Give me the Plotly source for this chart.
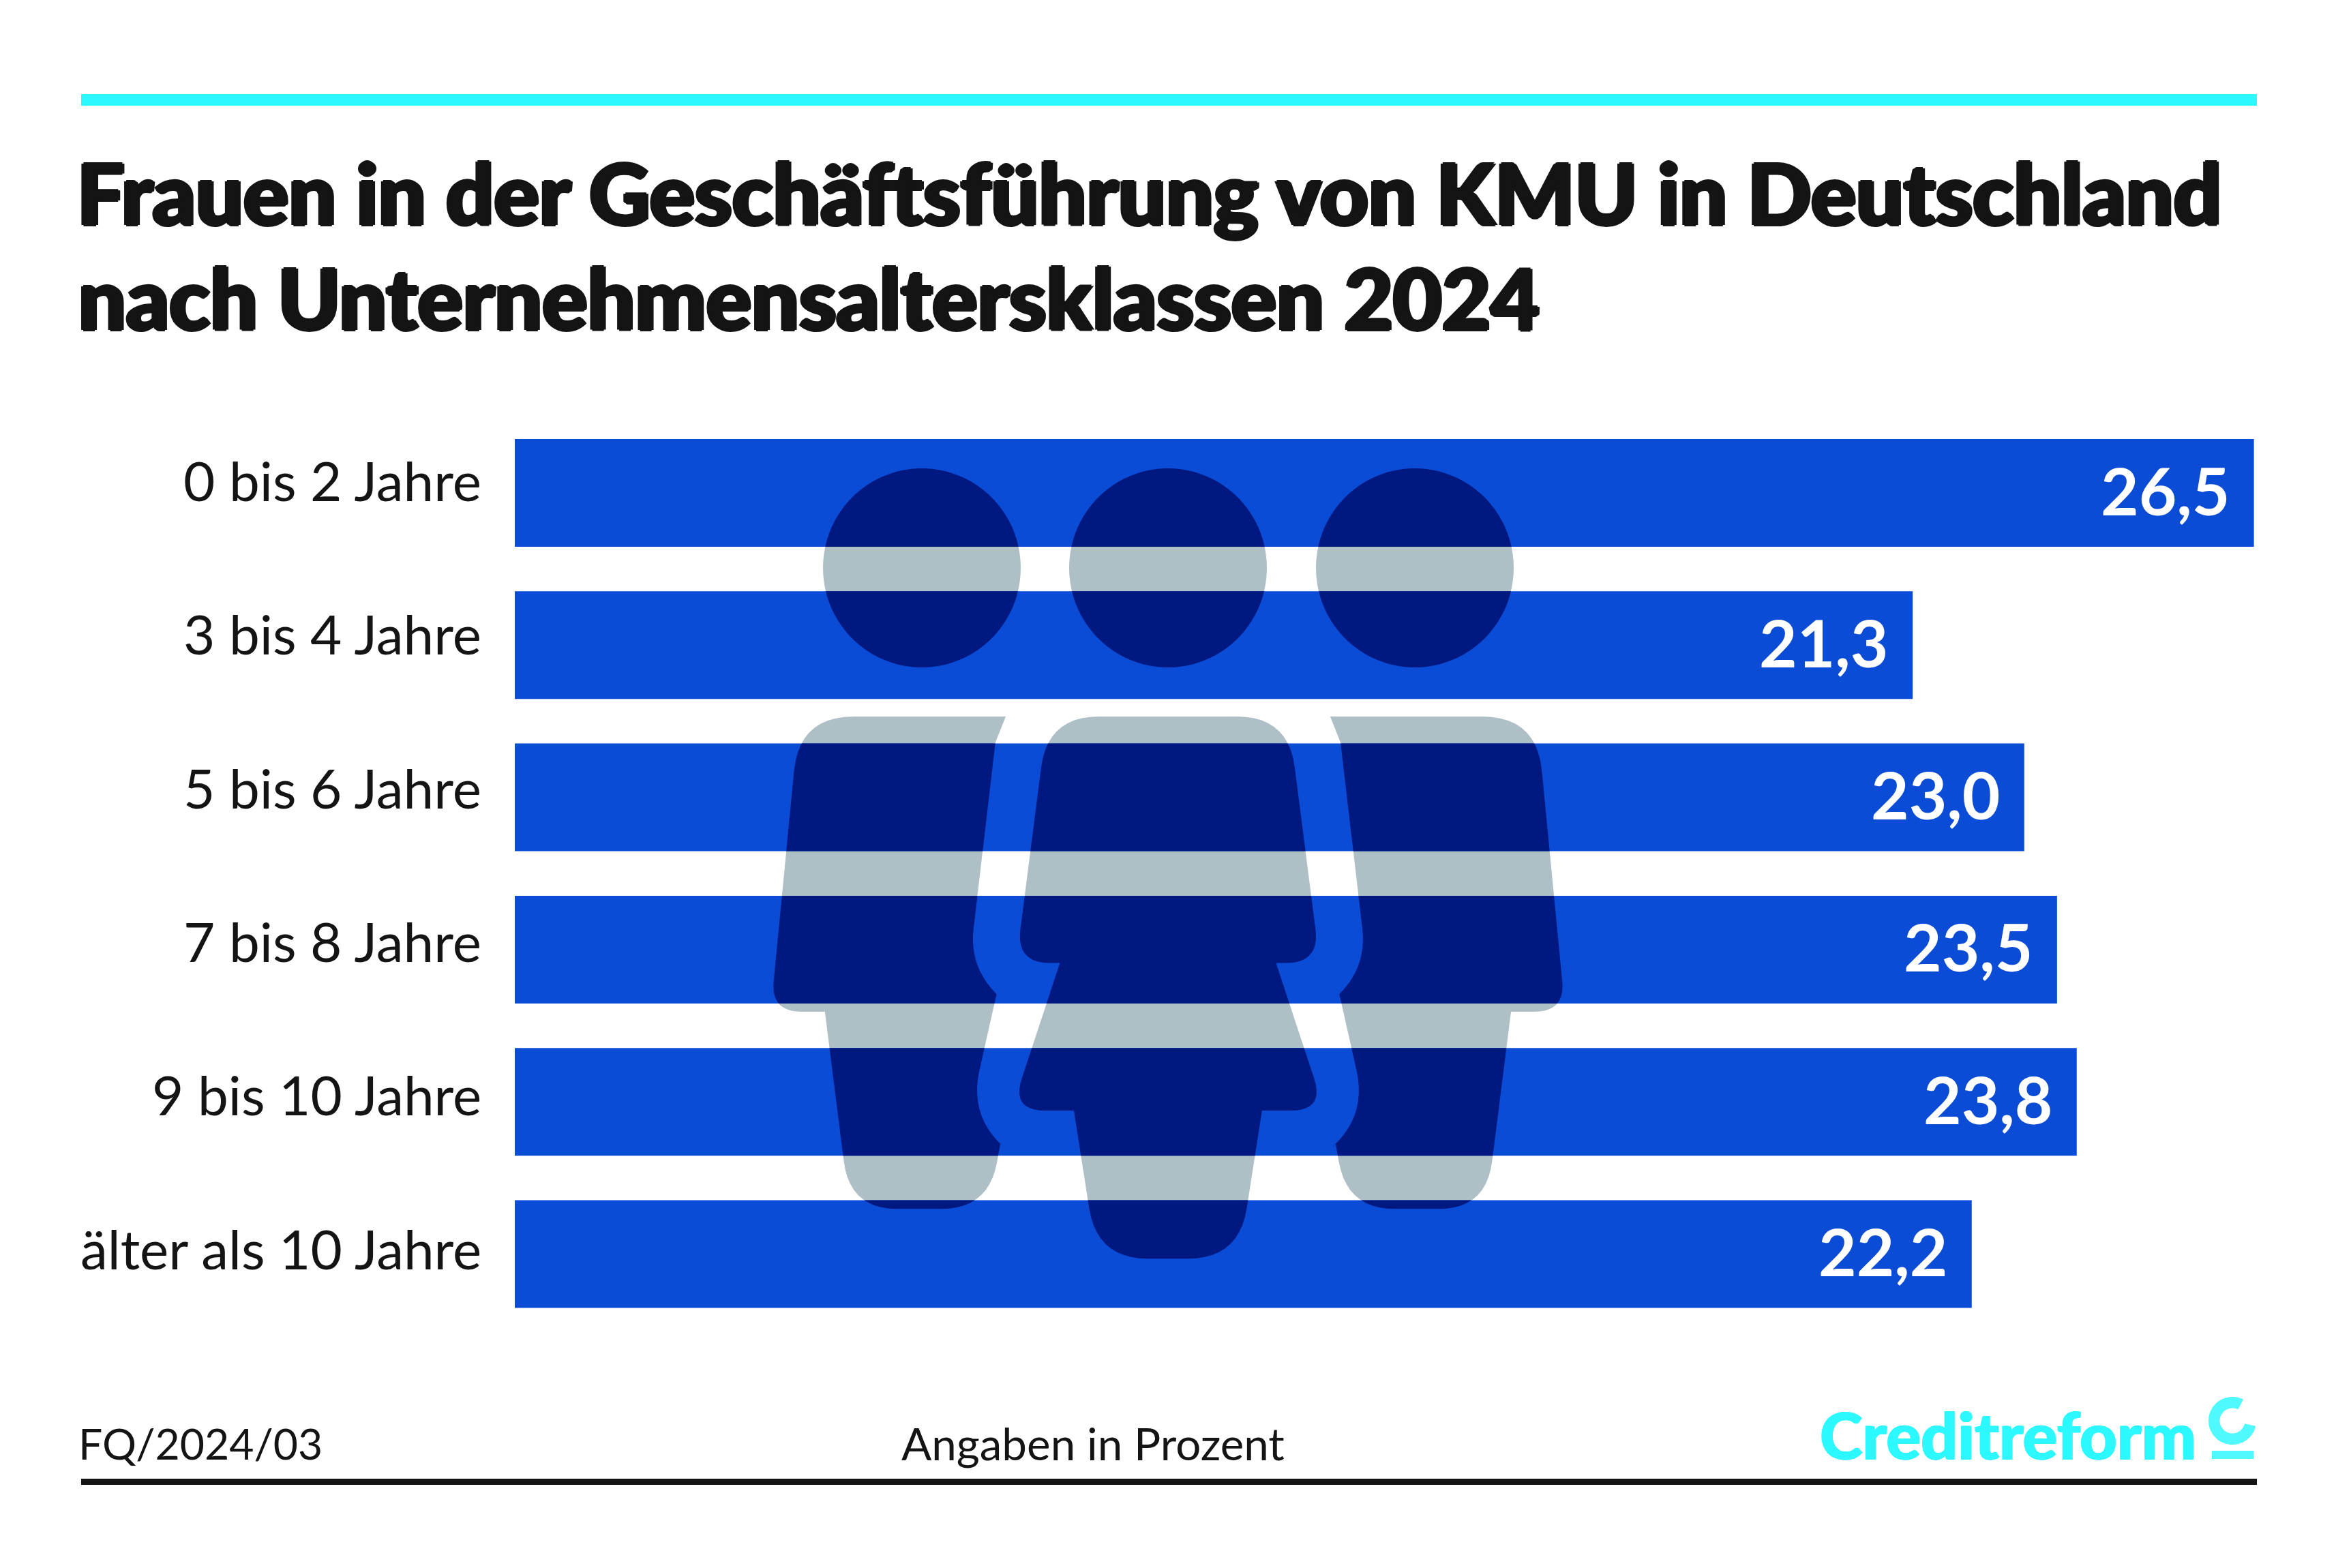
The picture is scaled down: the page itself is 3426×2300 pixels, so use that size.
import numpy as np
import plotly.graph_objects as go

W, H = 3426, 2300

# data
categories = ["0 bis 2 Jahre", "3 bis 4 Jahre", "5 bis 6 Jahre", "7 bis 8 Jahre", "9 bis 10 Jahre", "älter als 10 Jahre"]
values = [26.5, 21.3, 23.0, 23.5, 23.8, 22.2]
title_lines = ["Frauen in der Geschäftsführung von KMU in Deutschland", "nach Unternehmensaltersklassen 2024"]

BLUE = "#0a4cd6"
NAVY = "#00187f"
GREY = "#aebfc6"
CYAN = "#2bf9ff"
INK = "#141414"
TEXT_FONT = "Lato"

# bar geometry in page pixels
BAR_TOP, BAR_H, PITCH = 644, 158, 223.3
GAP = PITCH - BAR_H
PLOT_TOP = BAR_TOP - GAP / 2
PLOT_BOTTOM = PLOT_TOP + PITCH * len(values)
PLOT_LEFT, PLOT_RIGHT = 755, 3309


def px(x):
    return x / W


def py(y):
    return 1 - y / H


def rounded(points):
    """Outline from (x, y, r) vertices, corners softened with quadratic curves."""
    out = []
    n = len(points)
    for i, (x, y, r) in enumerate(points):
        if not r:
            out.append((x, y))
            continue
        p = np.array([x, y], float)
        a = np.array(points[i - 1][:2], float)
        b = np.array(points[(i + 1) % n][:2], float)
        p0 = p + (a - p) / np.linalg.norm(a - p) * r
        p2 = p + (b - p) / np.linalg.norm(b - p) * r
        for t in np.linspace(0, 1, 12):
            q = (1 - t) ** 2 * p0 + 2 * t * (1 - t) * p + t ** 2 * p2
            out.append((q[0], q[1]))
    return out


def clip_band(poly, y0, y1):
    """Cut a polygon down to a horizontal band."""
    def cut(pts, keep, cross_y):
        res = []
        for i in range(len(pts)):
            a, b = pts[i - 1], pts[i]
            if keep(a[1]) != keep(b[1]):
                t = (cross_y - a[1]) / (b[1] - a[1])
                res.append((a[0] + t * (b[0] - a[0]), cross_y))
            if keep(b[1]):
                res.append(b)
        return res
    pts = cut(poly, lambda v: v >= y0, y0)
    return cut(pts, lambda v: v <= y1, y1) if pts else []


def poly_path(pts):
    return "M " + " L ".join(f"{px(x):.5f},{py(y):.5f}" for x, y in pts) + " Z"


# icon outlines, measured in page pixels
def zx(v):
    return 1000 + v / 1.12


def zy(v):
    return 600 + v / 1.206


middle_half = [(601, 544, 75), (996, 544, 75), (1048, 980, 50), (976, 980, 0), (1056, 1241, 50), (953, 1241, 0), (915, 1503, 75)]
middle = middle_half + [(1597 - x, y, r) for x, y, r in reversed(middle_half[3:])] + [(1597 - 1048, 980, 50)]
left = [(193, 544, 80), (532, 544, 0), (515, 590, 0), (472, 985, 55), (517, 1035, 0),
        (472, 1250, 68), (523, 1300, 0), (504, 1415, 70), (276, 1415, 70),
        (235, 1066, 0), (146, 1066, 45)]
right = [(1597 - x, y, r) for x, y, r in reversed(left)]
bodies = [rounded([(zx(x), zy(y), r) for x, y, r in o]) for o in (left, middle, right)]

angles = np.linspace(0, 2 * np.pi, 90, endpoint=False)
heads = [[(cx + 145 * np.cos(a), 833 + 146 * np.sin(a)) for a in angles] for cx in (1352, 1713, 2075)]
people = bodies + heads

shapes = []
# cyan and black rules
shapes.append(dict(type="rect", xref="paper", yref="paper", x0=px(119), x1=px(3310), y0=py(138), y1=py(155), fillcolor=CYAN, line_width=0))
shapes.append(dict(type="rect", xref="paper", yref="paper", x0=px(119), x1=px(3310), y0=py(2169), y1=py(2178), fillcolor=INK, line_width=0))

# people: grey under the bars, navy only where a bar is
for poly in people:
    shapes.append(dict(type="path", xref="paper", yref="paper", path=poly_path(poly), fillcolor=GREY, line_width=0, layer="below"))
    for i in range(len(values)):
        top = BAR_TOP + i * PITCH
        piece = clip_band(poly, top, top + BAR_H)
        if piece:
            shapes.append(dict(type="path", xref="paper", yref="paper", path=poly_path(piece), fillcolor=NAVY, line_width=0))

# logo mark
arc = np.radians(np.linspace(63, 347, 60))
ring = [(3274 + 35 * np.cos(a), 2084 - 35 * np.sin(a)) for a in arc] + [(3274 + 18.5 * np.cos(a), 2084 - 18.5 * np.sin(a)) for a in arc[::-1]]
shapes.append(dict(type="path", xref="paper", yref="paper", path=poly_path(ring), fillcolor="#4ffaff", line_width=0))
shapes.append(dict(type="rect", xref="paper", yref="paper", x0=px(3244), x1=px(3305), y0=py(2128), y1=py(2140), fillcolor="#4ffaff", line_width=0))

fig = go.Figure(go.Bar(x=values, y=categories, orientation="h", marker=dict(color=BLUE, line_width=0), hoverinfo="skip"))

annotations = []
for i, (cat, v) in enumerate(zip(categories, values)):
    annotations.append(dict(x=v, y=cat, xref="x", yref="y", text=f"{v:.1f}".replace(".", ","), showarrow=False,
                            xanchor="right", xshift=-33, yshift=5, font=dict(family=TEXT_FONT, size=96, color="white", weight=700)))
    # row labels sit on a slightly wider pitch than the bars
    annotations.append(dict(x=0, y=cat, xref="x", yref="y", text=cat, showarrow=False,
                            xanchor="right", xshift=-47, yshift=19 - i * 2, font=dict(family=TEXT_FONT, size=80, color=INK)))


def page_text(x, y, text, size, color, weight=400, shadow="none"):
    annotations.append(dict(x=px(x), y=py(y), xref="paper", yref="paper", text=text, showarrow=False, xanchor="left", yanchor="middle",
                            font=dict(family=TEXT_FONT, size=size, color=color, weight=weight, shadow=shadow)))


# the original title face is heavier than anything installed, so thicken it a little
heavy = f"3px 0 0 {INK}, -3px 0 0 {INK}, 0 2px 0 {INK}, 0 -2px 0 {INK}"
page_text(111, 282, title_lines[0], 123.5, INK, 900, heavy)
page_text(113, 436, title_lines[1], 123.5, INK, 900, heavy)
page_text(113, 2116, "FQ/2024/03", 62.5, INK)
page_text(1320, 2116, "Angaben in Prozent", 65.5, INK)
page_text(2667, 2104, "Creditreform", 95, CYAN, 900, f"1px 0 0 {CYAN}, -1px 0 0 {CYAN}")

fig.update_layout(
    width=W, height=H, margin=dict(l=0, r=0, t=0, b=0),
    paper_bgcolor="white", plot_bgcolor="rgba(0,0,0,0)",
    bargap=GAP / PITCH, showlegend=False, shapes=shapes, annotations=annotations,
    xaxis=dict(domain=[px(PLOT_LEFT), px(PLOT_RIGHT)], range=[0, 26.535], visible=False),
    yaxis=dict(domain=[py(PLOT_BOTTOM), py(PLOT_TOP)], autorange="reversed", automargin=False, showgrid=False, showline=False,
               ticks="", showticklabels=False),
)

fig.write_html("out.html", config={"displayModeBar": False}, post_script="document.body.style.margin='0';")
